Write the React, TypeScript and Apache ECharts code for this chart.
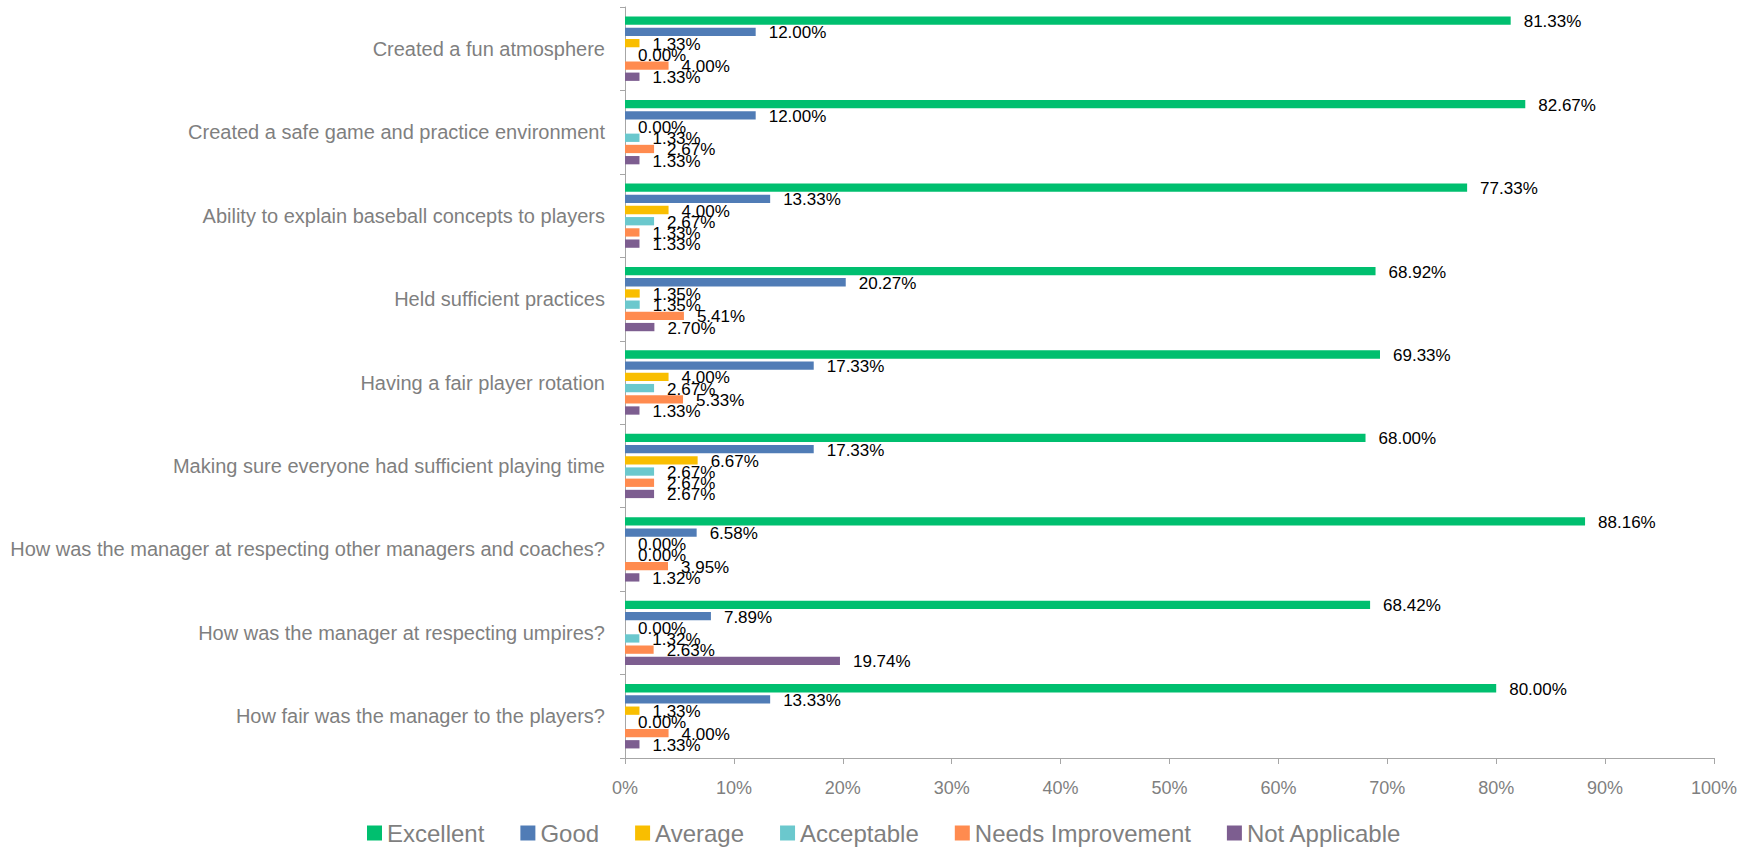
import React, { useEffect, useRef } from "react";
import * as echarts from "echarts";

const categories: string[] = [
  "Created a fun atmosphere",
  "Created a safe game and practice environment",
  "Ability to explain baseball concepts to players",
  "Held sufficient practices",
  "Having a fair player rotation",
  "Making sure everyone had sufficient playing time",
  "How was the manager at respecting other managers and coaches?",
  "How was the manager at respecting umpires?",
  "How fair was the manager to the players?",
];

const seriesNames: string[] = [
  "Excellent",
  "Good",
  "Average",
  "Acceptable",
  "Needs Improvement",
  "Not Applicable",
];

const excellent: number[] = [81.33, 82.67, 77.33, 68.92, 69.33, 68.0, 88.16, 68.42, 80.0];
const good: number[] = [12.0, 12.0, 13.33, 20.27, 17.33, 17.33, 6.58, 7.89, 13.33];
const average: number[] = [1.33, 0.0, 4.0, 1.35, 4.0, 6.67, 0.0, 0.0, 1.33];
const acceptable: number[] = [0.0, 1.33, 2.67, 1.35, 2.67, 2.67, 0.0, 1.32, 0.0];
const needsImprovement: number[] = [4.0, 2.67, 1.33, 5.41, 5.33, 2.67, 3.95, 2.63, 4.0];
const notApplicable: number[] = [1.33, 1.33, 1.33, 2.7, 1.33, 2.67, 1.32, 19.74, 1.33];

const colors: string[] = ["#00BF6F", "#507CB6", "#F9BE00", "#6BC8CD", "#FF8B4F", "#7D5E90"];

const FONT = "'Liberation Sans', Arial, sans-serif";

export default function App() {
  const ref = useRef<HTMLDivElement>(null);

  useEffect(() => {
    if (!ref.current) return;
    const chart = echarts.init(ref.current, undefined, { renderer: "svg" });
    const data = [excellent, good, average, acceptable, needsImprovement, notApplicable];
    const option = {
      animation: false,
      color: colors,
      textStyle: { fontFamily: FONT },
      grid: { left: 625, right: 35, top: 7, bottom: 92, containLabel: false },
      legend: {
        data: seriesNames,
        left: 362,
        top: 816,
        icon: "rect",
        itemWidth: 15,
        itemHeight: 15,
        itemGap: 36,
        textStyle: { color: "#7f7f7f", fontSize: 24, fontFamily: FONT },
      },
      xAxis: {
        type: "value",
        min: 0,
        max: 100,
        interval: 10,
        axisLine: { show: true, lineStyle: { color: "#a6a6a6", width: 1 } },
        axisTick: { show: true, length: 6, lineStyle: { color: "#a6a6a6" } },
        splitLine: { show: false },
        axisLabel: {
          formatter: "{value}%",
          color: "#7f7f7f",
          fontSize: 18,
          margin: 21,
          fontFamily: FONT,
        },
      },
      yAxis: {
        type: "category",
        inverse: true,
        data: categories,
        axisLine: { show: true, lineStyle: { color: "#a6a6a6", width: 1 } },
        axisTick: { show: true, length: 5, alignWithLabel: false, lineStyle: { color: "#a6a6a6" } },
        axisLabel: { color: "#7f7f7f", fontSize: 20, margin: 20, fontFamily: FONT },
      },
      series: seriesNames.map((name, i) => ({
        name,
        type: "bar",
        data: data[i],
        barWidth: 8.3,
        barGap: "35%",
        itemStyle: { color: colors[i] },
        label: {
          show: true,
          position: "right",
          distance: 13,
          offset: [0, 1],
          color: "#000",
          fontSize: 17,
          fontFamily: FONT,
          formatter: (p: any) => Number(p.value).toFixed(2) + "%",
        },
      })),
    };
    chart.setOption(option as any);
    return () => chart.dispose();
  }, []);

  return (
    <div
      ref={ref}
      style={{ position: "absolute", left: 0, top: 0, width: 1749, height: 850 }}
    />
  );
}
